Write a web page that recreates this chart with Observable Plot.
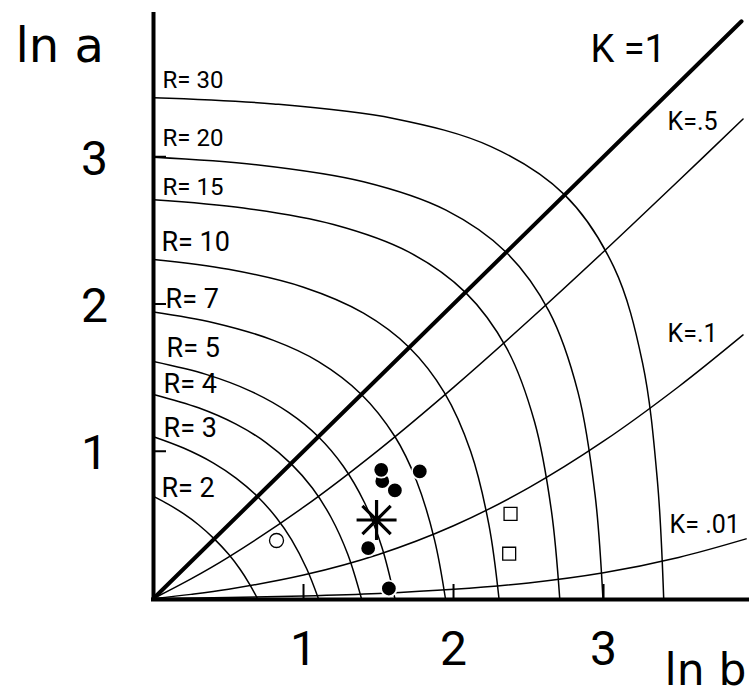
<!DOCTYPE html>
<html><head><meta charset="utf-8">
<script src="https://cdn.jsdelivr.net/npm/d3@7"></script>
<script src="https://cdn.jsdelivr.net/npm/@observablehq/plot@0.6"></script>
<style>html,body{margin:0;padding:0;background:#fff} svg{display:block}</style>
</head><body><div id="chart"></div>
<script>
// ---- data: [ln b, ln a] ----
const rValues = [2, 3, 4, 5, 7, 10, 15, 20, 30];
const rCurve2  = [[0,0.693],[0.1,0.639],[0.2,0.576],[0.3,0.501],[0.405,0.405],[0.501,0.3],[0.576,0.2],[0.639,0.1],[0.693,0]];
const rCurve3  = [[0,1.099],[0.2,1.022],[0.4,0.920],[0.55,0.818],[0.693,0.693],[0.818,0.55],[0.920,0.4],[1.022,0.2],[1.099,0]];
const rCurve4  = [[0,1.386],[0.3,1.295],[0.55,1.184],[0.75,1.059],[0.916,0.916],[1.059,0.75],[1.184,0.55],[1.295,0.3],[1.386,0]];
const rCurve5  = [[0,1.609],[0.35,1.522],[0.65,1.407],[0.9,1.264],[1.099,1.099],[1.264,0.9],[1.407,0.65],[1.522,0.35],[1.609,0]];
const rCurve7  = [[0,1.946],[0.4,1.873],[0.8,1.753],[1.1,1.609],[1.386,1.386],[1.609,1.1],[1.753,0.8],[1.873,0.4],[1.946,0]];
const rCurve10 = [[0,2.303],[0.5,2.236],[1.0,2.114],[1.4,1.938],[1.705,1.705],[1.938,1.4],[2.114,1.0],[2.236,0.5],[2.303,0]];
const rCurve15 = [[0,2.708],[0.6,2.652],[1.2,2.540],[1.7,2.354],[2.079,2.079],[2.354,1.7],[2.540,1.2],[2.652,0.6],[2.708,0]];
const rCurve20 = [[0,2.996],[0.7,2.944],[1.4,2.830],[1.95,2.637],[2.351,2.351],[2.637,1.95],[2.830,1.4],[2.944,0.7],[2.996,0]];
const rCurve30 = [[0,3.401],[0.8,3.359],[1.6,3.260],[2.25,3.069],[2.741,2.741],[3.069,2.25],[3.260,1.6],[3.359,0.8],[3.401,0]];
const rCurves = [rCurve2, rCurve3, rCurve4, rCurve5, rCurve7, rCurve10, rCurve15, rCurve20, rCurve30];
const rLabels = ["R= 2", "R= 3", "R= 4", "R= 5", "R= 7", "R= 10", "R= 15", "R= 20", "R= 30"];
const rLabelX = [0.053, 0.067, 0.067, 0.087, 0.08, 0.053, 0.06, 0.06, 0.06];
const rLabelY = [0.686, 1.094, 1.393, 1.637, 1.970, 2.358, 2.738, 3.071, 3.465];

const kValues = ["1", ".5", ".1", ".01"];
const kCurve1   = [[0,0],[3.92,3.92]];
const kCurve05  = [[0,0],[0.25,0.133],[0.5,0.281],[1.0,0.620],[1.5,1.008],[2.0,1.434],[2.5,1.886],[3.0,2.355],[3.5,2.837],[3.93,3.256]];
const kCurve01  = [[0,0],[0.25,0.028],[0.5,0.063],[1.0,0.159],[1.5,0.299],[2.0,0.494],[2.5,0.751],[3.0,1.068],[3.5,1.438],[3.93,1.790]];
const kCurve001 = [[0,0],[0.5,0.006],[1.0,0.017],[1.5,0.034],[2.0,0.062],[2.5,0.106],[3.0,0.175],[3.5,0.279],[3.95,0.405]];
const kLabels = ["K =1", "K=.5", "K=.1", "K= .01"];
const kLabelX = [2.913, 3.427, 3.427, 3.44];
const kLabelY = [3.641, 3.179, 1.739, 0.442];

const filledX = [1.525, 1.518, 1.609, 1.775, 1.431, 1.569];
const filledY = [0.797, 0.874, 0.734, 0.863, 0.342, 0.068];
const starX = [1.487], starY = [0.533];
const openCircleX = [0.82], openCircleY = [0.394];
const squareX = [2.38, 2.371], squareY = [0.575, 0.304];

const xTicks = [1, 2, 3];
const yTicks = [1, 2, 3];
const xTitle = "ln b", yTitle = "ln a";

// ---- tables ----
const rTable = rValues.flatMap((r, i) => rCurves[i].map(([x, y]) => ({r, x, y})));
const kThin = [[".5", kCurve05], [".1", kCurve01], [".01", kCurve001]]
  .flatMap(([k, pts]) => pts.map(([x, y]) => ({k, x, y})));
const kThick = kCurve1.map(([x, y]) => ({k: "1", x, y}));
const rLab = rLabels.map((t, i) => ({t, x: rLabelX[i], y: rLabelY[i], big: rValues[i] <= 10}));
const kLab = kLabels.map((t, i) => ({t, x: kLabelX[i], y: kLabelY[i], big: i === 0}));
const filled = filledX.map((x, i) => ({x, y: filledY[i]}));
const stars = starX.map((x, i) => ({x, y: starY[i]}));
const opens = openCircleX.map((x, i) => ({x, y: openCircleY[i]}));
const squares = squareX.map((x, i) => ({x, y: squareY[i]}));

const asterisk = {
  draw(context, size) {
    const r = Math.sqrt(size / Math.PI);
    for (const a of [0, Math.PI / 4, Math.PI / 2, 3 * Math.PI / 4]) {
      const c = Math.cos(a) * r, s = Math.sin(a) * r;
      context.moveTo(-c, -s); context.lineTo(c, s);
    }
  }
};

const xMax = 3.973, yMax = 4.0;
const font = "Roboto, 'DejaVu Sans', sans-serif";

const chart = Plot.plot({
  width: 749, height: 695,
  marginLeft: 153, marginRight: 0, marginTop: 9, marginBottom: 97,
  x: {domain: [0, xMax], axis: null},
  y: {domain: [0, yMax], axis: null},
  style: {fontFamily: font, color: "black", background: "white", overflow: "visible"},
  marks: [
    Plot.line(rTable, {x: "x", y: "y", z: "r", curve: "catmull-rom", stroke: "black", strokeWidth: 1.5}),
    Plot.line(kThin, {x: "x", y: "y", z: "k", curve: "catmull-rom", stroke: "black", strokeWidth: 1.5}),
    Plot.line(kThick, {x: "x", y: "y", stroke: "black", strokeWidth: 4}),
    // axes
    Plot.ruleX([0], {y1: 0, y2: yMax, stroke: "black", strokeWidth: 4, insetBottom: -3}),
    Plot.ruleY([0], {x1: 0, x2: xMax, stroke: "black", strokeWidth: 4, dy: 1, insetLeft: -2}),
    Plot.ruleX(xTicks, {x: d => d, y1: 0, y2: 0, insetTop: -14, stroke: "black", strokeWidth: 2}),
    Plot.ruleY(yTicks, {y: d => d, x1: 0, x2: 0, insetRight: -13, stroke: "black", strokeWidth: 2}),
    Plot.text(xTicks, {x: d => d, y: 0, text: d => String(d), lineAnchor: "bottom", dy: 66, fontSize: 48, textAnchor: "middle"}),
    Plot.text(yTicks, {x: 0, y: d => d, text: d => String(d), lineAnchor: "bottom", dy: 18, dx: -59, fontSize: 48, textAnchor: "middle"}),
    Plot.text([yTitle], {frameAnchor: "top-left", text: d => d, lineAnchor: "bottom", textAnchor: "start", dx: -138, dy: 52, fontSize: 48, fontFamily: "'DejaVu Sans', sans-serif"}),
    Plot.text([xTitle], {frameAnchor: "bottom-right", text: d => d, lineAnchor: "bottom", textAnchor: "end", dx: -3, dy: 86, fontSize: 44, fontFamily: "'DejaVu Sans', sans-serif"}),
    // curve labels
    Plot.text(rLab.filter(d => d.big), {x: "x", y: "y", text: "t", lineAnchor: "bottom", textAnchor: "start", fontSize: 27}),
    Plot.text(rLab.filter(d => !d.big), {x: "x", y: "y", text: "t", lineAnchor: "bottom", textAnchor: "start", fontSize: 24}),
    Plot.text(kLab.filter(d => d.big), {x: "x", y: "y", text: "t", lineAnchor: "bottom", textAnchor: "start", fontSize: 38}),
    Plot.text(kLab.filter(d => !d.big), {x: "x", y: "y", text: "t", lineAnchor: "bottom", textAnchor: "start", fontSize: 25}),
    // observations
    Plot.dot(opens, {x: "x", y: "y", r: 7, fill: "white", stroke: "black", strokeWidth: 1.3}),
    Plot.dot(squares, {x: "x", y: "y", r: 7.3, symbol: "square", fill: "white", stroke: "black", strokeWidth: 1.3}),
    Plot.dot(filled, {x: "x", y: "y", r: 7.8, fill: "black", stroke: "white", strokeWidth: 1.8}),
    Plot.dot(stars, {x: "x", y: "y", r: 20, symbol: asterisk, fill: "none", stroke: "black", strokeWidth: 3.2})
  ]
});
document.getElementById("chart").appendChild(chart);
</script>
</body></html>
